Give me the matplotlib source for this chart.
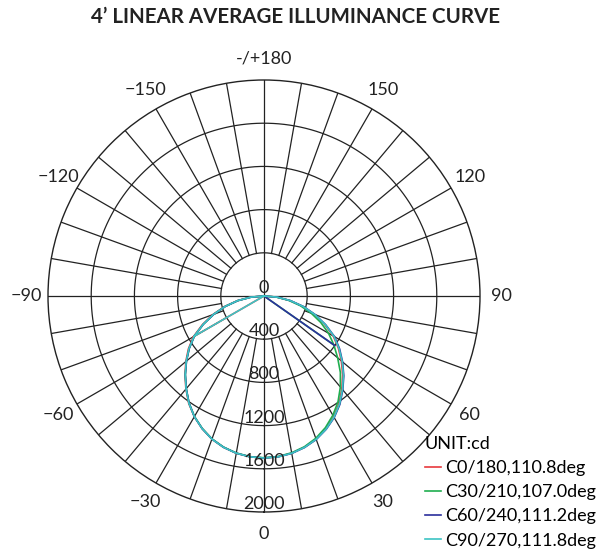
# 4' linear average illuminance curve - polar photometric plot
import numpy as np
import matplotlib.pyplot as plt

plt.rcParams['font.family'] = ['Lato', 'DejaVu Sans']

# === data (gamma angles in deg, intensity in cd), in drawing order ===
gamma = [-90, -85, -80, -75, -70, -65, -60, -55, -50, -45, -40, -35, -30, -25,
         -20, -15, -10, -5, 0, 5, 10, 15, 20, 25, 30, 35, 40, 45, 50, 55, 60,
         65, 70, 75, 80, 85, 90]

# last value of each list closes the curve back to a point near the beam edge
c0_gamma = gamma + [-60]
c0_cd = [0, 125, 250, 378, 505, 630, 755, 855, 945, 1035, 1125, 1215, 1290,
         1355, 1410, 1450, 1478, 1495, 1500, 1495, 1478, 1450, 1410, 1355, 1290,
         1212, 1122, 1030, 935, 840, 740, 618, 495, 370, 245, 120, 0, 755]

c30_gamma = gamma + [55]
c30_cd = [0, 120, 245, 370, 495, 620, 745, 845, 938, 1030, 1120, 1210, 1288,
          1353, 1408, 1448, 1476, 1493, 1498, 1492, 1474, 1445, 1402, 1345, 1275,
          1195, 1100, 1000, 890, 790, 690, 580, 465, 350, 232, 115, 0, 790]

c60_gamma = gamma + [55]
c60_cd = [0, 120, 245, 370, 495, 620, 745, 845, 937, 1030, 1120, 1210, 1290,
          1355, 1410, 1450, 1478, 1495, 1500, 1495, 1480, 1452, 1414, 1362, 1300,
          1225, 1135, 1045, 950, 855, 755, 630, 505, 380, 250, 125, 0, 800]

c90_gamma = gamma + [-60]
c90_cd = [0, 122, 247, 372, 498, 622, 748, 848, 940, 1032, 1122, 1212, 1290,
          1355, 1410, 1450, 1478, 1495, 1500, 1495, 1479, 1451, 1412, 1360, 1296,
          1220, 1130, 1040, 945, 848, 748, 625, 500, 375, 248, 122, 0, 748]

labels = ["C0/180,110.8deg", "C30/210,107.0deg",
          "C60/240,111.2deg", "C90/270,111.8deg"]
colors = ["#e8383d", "#1fae4f", "#2b2f9c", "#3cc4c4"]

rings = [400, 800, 1200, 1600, 2000]
ring_labels = ["0", "400", "800", "1200", "1600", "2000"]
angle_ticks = [0, 30, 60, 90, 120, 150, 180, -150, -120, -90, -60, -30]
angle_texts = ["0", "30", "60", "90", "120", "150", "-/+180",
               "\u2212150", "\u2212120", "\u221290", "\u221260", "\u221230"]

# === figure ===
W, H = 607, 552
fig = plt.figure(figsize=(W / 100, H / 100), dpi=100)
cx, cy, rad = 264, 296, 216
ax = fig.add_axes([(cx - rad) / W, 1 - (cy + rad) / H, 2 * rad / W, 2 * rad / H],
                  projection='polar')
ax.set_theta_zero_location('S')
ax.set_theta_direction(1)
ax.set_ylim(0, 2000)
ax.grid(False)
ax.set_xticks([])
ax.set_yticks([])
ax.spines['polar'].set_color('#222222')
ax.spines['polar'].set_linewidth(1.0)

grid_kw = dict(color='#222222', lw=0.9, zorder=1)
t = np.linspace(0, 2 * np.pi, 400)
for r in rings[:-1]:
    ax.plot(t, np.full_like(t, r), **grid_kw)
for a in range(0, 360, 10):
    r0 = 0 if a % 90 == 0 else rings[0]
    ax.plot([np.radians(a)] * 2, [r0, 2000], **grid_kw)

# curves
series = [(c0_gamma, c0_cd), (c30_gamma, c30_cd), (c60_gamma, c60_cd), (c90_gamma, c90_cd)]
handles = []
for (g, v), c, lab in zip(series, colors, labels):
    h, = ax.plot(np.radians(g), v, color=c, lw=1.2, label=lab, zorder=3)
    handles.append(h)

# ring labels along the nadir line
for val, txt in zip([0] + rings, ring_labels):
    ax.text(0, val, txt, ha='center', va='bottom', fontsize=13,
            color='#222222', zorder=4)

# angle labels
for a, txt in zip(angle_ticks, angle_texts):
    ax.text(np.radians(a), 2200, txt, ha='center', va='center',
            fontsize=13, color='#222222')

fig.suptitle("4\u2019 LINEAR AVERAGE ILLUMINANCE CURVE", x=0.487, y=0.988,
             fontsize=14.8, fontweight='bold', color='#222222')

leg = fig.legend(handles=handles, loc='lower left', bbox_to_anchor=(0.697, 0.003),
                 frameon=False, title="UNIT:cd", fontsize=13, title_fontsize=13,
                 handlelength=0.9, handletextpad=0.2, labelspacing=0.45,
                 borderaxespad=0, borderpad=0.1)
leg._legend_box.align = "left"

fig.savefig("out.png", dpi=100, facecolor='white')
